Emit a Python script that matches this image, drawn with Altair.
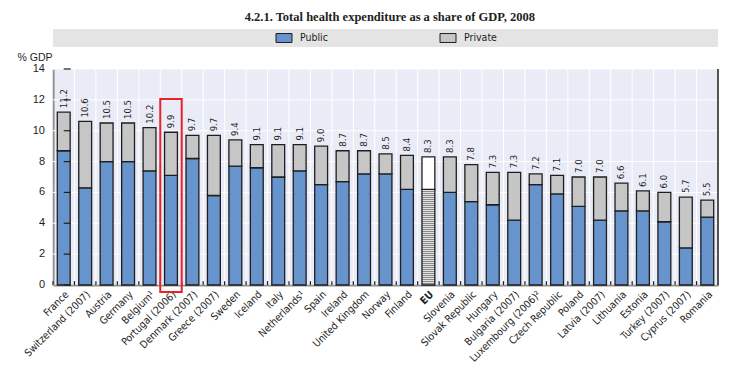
import altair as alt
import pandas as pd

countries = ["France", "Switzerland (2007)", "Austria", "Germany", "Belgium¹",
             "Portugal (2006)", "Denmark (2007)", "Greece (2007)", "Sweden", "Iceland",
             "Italy", "Netherlands¹", "Spain", "Ireland", "United Kingdom", "Norway",
             "Finland", "EU", "Slovenia", "Slovak Republic", "Hungary", "Bulgaria (2007)",
             "Luxembourg (2006)²", "Czech Republic", "Poland", "Latvia (2007)", "Lithuania",
             "Estonia", "Turkey (2007)", "Cyprus (2007)", "Romania"]
total = [11.2, 10.6, 10.5, 10.5, 10.2, 9.9, 9.7, 9.7, 9.4, 9.1, 9.1, 9.1, 9.0, 8.7, 8.7,
         8.5, 8.4, 8.3, 8.3, 7.8, 7.3, 7.3, 7.2, 7.1, 7.0, 7.0, 6.6, 6.1, 6.0, 5.7, 5.5]
public = [8.7, 6.3, 8.0, 8.0, 7.4, 7.1, 8.2, 5.8, 7.7, 7.6, 7.0, 7.4, 6.5, 6.7, 7.2,
          7.2, 6.2, 6.2, 6.0, 5.4, 5.2, 4.2, 6.5, 5.9, 5.1, 4.2, 4.8, 4.8, 4.1, 2.4, 4.4]
legend_labels = ["Public", "Private"]
y_ticks = [0, 2, 4, 6, 8, 10, 12, 14]
highlight = "Portugal (2006)"
highlight_top = 12.05
highlight_bottom = -0.45

PUBLIC_C = "#6794cd"
PRIVATE_C = "#c6c6c6"
INK = "#1e1e1e"
BG = "#e9ecf6"
FONT = "Liberation Sans Narrow, DejaVu Sans Condensed, Arial Narrow, sans-serif"

df = pd.DataFrame({"country": countries, "total": total, "public": public})
df["label"] = [f"{v:.1f}" for v in total]
ticks_df = pd.DataFrame({"tick": y_ticks})

x_scale = alt.Scale(domain=countries, paddingInner=0, paddingOuter=0)
y_scale = alt.Scale(domain=[0, 14], nice=False, zero=True)

X_AXIS = alt.Axis(labelAngle=-45, labelAlign="right", labelBaseline="top",
                  labelPadding=4, ticks=False, grid=False, domainColor=INK,
                  domainWidth=1.5, labelFont=FONT, labelFontSize=10.3,
                  labelColor=INK, labelLimit=0,
                  labelFontWeight={"condition": {"test": "datum.value === 'EU'", "value": "bold"},
                                   "value": "normal"})
Y_AXIS = alt.Axis(labels=False, grid=False, ticks=False, domainColor=INK,
                  domainWidth=1.5, title="% GDP", titleAngle=0,
                  titleAlign="left", titleBaseline="middle", titleX=-36, titleY=-12,
                  titleFont="Liberation Sans", titleFontSize=10.5,
                  titleFontWeight="normal", titleColor=INK)

base = alt.Chart(df)
tbase = alt.Chart(ticks_df)


def xf(**kw):
    return alt.X("country:N", sort=countries, scale=x_scale, title=None, axis=X_AXIS, **kw)


def xfirst():
    return alt.X(datum=countries[0], scale=x_scale, bandPosition=0, axis=X_AXIS)


def yq(field):
    return alt.Y(field, scale=y_scale, axis=Y_AXIS)


def yd(v):
    return alt.Y(datum=v, scale=y_scale, axis=Y_AXIS)


hgrid = tbase.mark_rule(color="white", strokeWidth=1).encode(y=yq("tick:Q"))

vgrid = base.mark_rule(color="white", strokeWidth=1).encode(
    x=xf(bandPosition=0), y=yd(0), y2=alt.Y2(datum=14))

btick = base.mark_rule(color=INK, strokeWidth=1.2).encode(
    x=xf(bandPosition=0), y=yd(0), y2=alt.Y2(datum=0.25))

ytick = tbase.mark_tick(color=INK, thickness=1.2, size=7, xOffset=3.5,
                        orient="horizontal", opacity=1).encode(
    x=xfirst(), y=yq("tick:Q"))

ylab = tbase.mark_text(align="right", baseline="middle", dx=-8, font="Liberation Sans",
                       fontSize=11, color=INK).encode(
    x=xfirst(), y=yq("tick:Q"), text="tick:Q")

rborder = base.transform_filter(alt.datum.country == countries[-1]).mark_rule(
    color=INK, strokeWidth=1.5).encode(
    x=xf(bandPosition=1), y=yd(0), y2=alt.Y2(datum=14))

barw = alt.RelativeBandSize(0.6)
pub = base.transform_filter(alt.datum.country != "EU").mark_bar(
    width=barw, fill=PUBLIC_C, stroke=INK, strokeWidth=1.3).encode(
    x=xf(), y=yq("public:Q"), y2=alt.Y2(datum=0))
priv = base.transform_filter(alt.datum.country != "EU").mark_bar(
    width=barw, fill=PRIVATE_C, stroke=INK, strokeWidth=1.3).encode(
    x=xf(), y=yq("total:Q"), y2="public:Q")

n = 48
stops = []
for i in range(n):
    stops += [{"offset": i / n, "color": "#8a8a8a"},
              {"offset": (i + 0.5) / n, "color": "#8a8a8a"},
              {"offset": (i + 0.5) / n, "color": "#e2e2e2"},
              {"offset": (i + 1) / n, "color": "#e2e2e2"}]
hatch = {"gradient": "linear", "x1": 0, "y1": 0, "x2": 0, "y2": 1, "stops": stops}

eu_pub = base.transform_filter(alt.datum.country == "EU").mark_bar(
    width=barw, fill=hatch, stroke=INK, strokeWidth=1.3).encode(
    x=xf(), y=yq("public:Q"), y2=alt.Y2(datum=0))
eu_priv = base.transform_filter(alt.datum.country == "EU").mark_bar(
    width=barw, fill="white", stroke=INK, strokeWidth=1.3).encode(
    x=xf(), y=yq("total:Q"), y2="public:Q")

labels = base.mark_text(angle=270, align="left", baseline="middle", dx=4,
                        font=FONT, fontSize=9.5, color=INK).encode(
    x=xf(), y=yq("total:Q"), text="label:N")

hl = base.transform_filter(alt.datum.country == highlight).mark_rect(
    fillOpacity=0, stroke="#e8212b", strokeWidth=2).encode(
    x=xf(), y=yd(highlight_top), y2=alt.Y2(datum=highlight_bottom))

main = alt.layer(hgrid, vgrid, btick, rborder, pub, priv, eu_pub, eu_priv, ytick, ylab,
                 labels, hl).properties(
    width=665, height=216, view=alt.ViewBackground(fill=BG, stroke=None))

leg_df = pd.DataFrame({"label": legend_labels, "color": [PUBLIC_C, PRIVATE_C]})
leg_x = alt.X("label:N", sort=legend_labels,
              scale=alt.Scale(type="point", range=[231, 395], padding=0), axis=None)
sw = alt.Chart(leg_df).mark_point(shape="M-1,-0.56H1V0.56H-1Z", size=256, filled=True,
                                  opacity=1, stroke=INK, strokeWidth=1).encode(
    x=leg_x, fill=alt.Fill("color:N", scale=None, legend=None))
lt = alt.Chart(leg_df).mark_text(align="left", baseline="middle", dx=16, font=FONT,
                                 fontSize=10.5, color=INK).encode(x=leg_x, text="label:N")
legend = alt.layer(sw, lt).properties(width=665, height=18,
                                      view=alt.ViewBackground(fill="#e4e4e4", stroke=None))

chart = alt.vconcat(legend, main, spacing=5).properties(
    title=alt.Title("4.2.1.  Total health expenditure as a share of GDP, 2008",
                    font="Liberation Serif", fontSize=12.5, fontWeight="bold",
                    color=INK, anchor="middle", offset=6, dx=22),
    padding={"left": 9, "top": 2, "right": 5, "bottom": 5},
).configure(background="white")

chart.save("out.html", embed_options={"renderer": "svg", "actions": False})
